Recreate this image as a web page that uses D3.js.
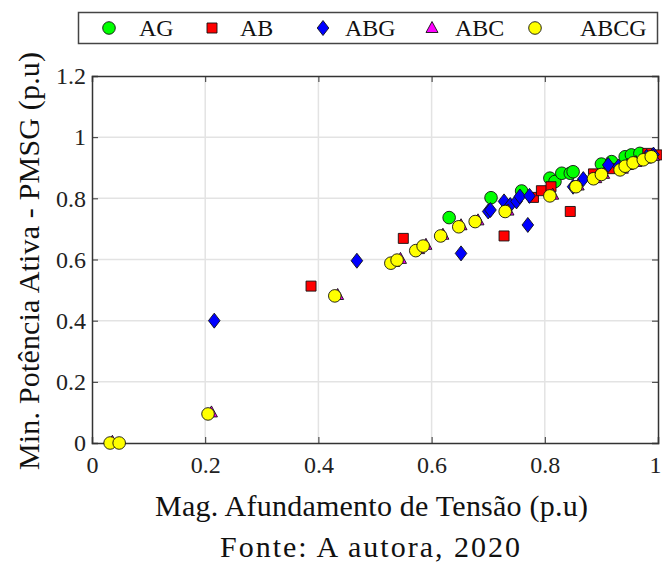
<!DOCTYPE html>
<html>
<head>
	<meta charset="utf-8">
	<title>Min. Potencia Ativa - PMSG</title>
	<script src="https://d3js.org/d3.v7.min.js"></script>
	<style>
		body { margin: 0; background: #fff; }
		svg text { font-family: "Liberation Serif", "DejaVu Serif", "Times New Roman", serif !important; fill: #111; }
	</style>
</head>
<body>
<div id="chart"></div>
<script type="text/javascript">

	// data: [mag. afundamento, min. potencia]
	var seriesNames = ["AG", "AB", "ABG", "ABC", "ABCG"];

	var agPoints = [
		[0.631, 0.737], [0.705, 0.802], [0.759, 0.824], [0.809, 0.866], [0.818, 0.855],
		[0.830, 0.882], [0.845, 0.882], [0.850, 0.887], [0.900, 0.912], [0.918, 0.920],
		[0.942, 0.936], [0.953, 0.942], [0.968, 0.947]
	];
	var abPoints = [
		[0.387, 0.513], [0.550, 0.669], [0.728, 0.677], [0.780, 0.803], [0.794, 0.825],
		[0.811, 0.838], [0.845, 0.757], [0.886, 0.880], [0.915, 0.897], [0.982, 0.947],
		[0.998, 0.942]
	];
	var abgPoints = [
		[0.216, 0.400], [0.468, 0.596], [0.652, 0.620], [0.700, 0.757], [0.704, 0.762],
		[0.728, 0.790], [0.739, 0.778], [0.750, 0.790], [0.756, 0.806], [0.773, 0.808],
		[0.770, 0.713], [0.850, 0.838], [0.868, 0.863], [0.912, 0.909], [0.930, 0.904],
		[0.980, 0.936], [0.992, 0.943]
	];
	var abcPoints = [
		[0.036, 0.004], [0.211, 0.100], [0.434, 0.484], [0.533, 0.592], [0.545, 0.602],
		[0.577, 0.634], [0.590, 0.648], [0.620, 0.681], [0.652, 0.712], [0.682, 0.728],
		[0.735, 0.760], [0.814, 0.812], [0.859, 0.842], [0.890, 0.866], [0.904, 0.880],
		[0.937, 0.897], [0.946, 0.909], [0.961, 0.919], [0.978, 0.930], [0.992, 0.939]
	];
	var abcgPoints = [
		[0.032, 0.000], [0.048, 0.000], [0.205, 0.095], [0.429, 0.481], [0.528, 0.588],
		[0.539, 0.598], [0.572, 0.629], [0.585, 0.644], [0.616, 0.677], [0.648, 0.707],
		[0.677, 0.724], [0.730, 0.757], [0.809, 0.808], [0.855, 0.838], [0.886, 0.864],
		[0.900, 0.878], [0.933, 0.893], [0.942, 0.905], [0.956, 0.916], [0.974, 0.926],
		[0.988, 0.936]
	];

	var xTicks = [0, 0.2, 0.4, 0.6, 0.8, 1];
	var yTicks = [0, 0.2, 0.4, 0.6, 0.8, 1, 1.2];

	var colors = {AG: "#00ff00", AB: "#ff0000", ABG: "#0000ff", ABC: "#ff00ff", ABCG: "#ffff00"};
	var shapes = {AG: "circle", AB: "square", ABG: "diamond", ABC: "triangle", ABCG: "circle"};
	var dataBySeries = {AG: agPoints, AB: abPoints, ABG: abgPoints, ABC: abcPoints, ABCG: abcgPoints};

	var width = 662, height = 563;
	var plot = {left: 92, right: 658, top: 76, bottom: 443};

	var svg = d3.select("#chart").append("svg")
		.attr("width", width)
		.attr("height", height);

	var x = d3.scaleLinear().domain([0, 1]).range([plot.left, plot.right]);
	var y = d3.scaleLinear().domain([0, 1.2]).range([plot.bottom, plot.top]);

	// grid
	var grid = svg.append("g");
	grid.selectAll("line.gx")
		.data(xTicks.slice(1, -1))
		.enter().append("line")
		.attr("x1", function(d){ return x(d); })
		.attr("x2", function(d){ return x(d); })
		.attr("y1", plot.top).attr("y2", plot.bottom)
		.style("stroke", "#e3e3e3").style("stroke-width", 1.5);
	grid.selectAll("line.gy")
		.data(yTicks.slice(1, -1))
		.enter().append("line")
		.attr("y1", function(d){ return y(d); })
		.attr("y2", function(d){ return y(d); })
		.attr("x1", plot.left).attr("x2", plot.right)
		.style("stroke", "#e3e3e3").style("stroke-width", 1.5);

	// axes with inward ticks, MATLAB box
	var axColor = "#333";
	var fmt = function(d){ return d3.format("~g")(d); };
	var xAxis = d3.axisBottom(x).tickValues(xTicks).tickSize(-6).tickPadding(13).tickFormat(fmt);
	var yAxis = d3.axisLeft(y).tickValues(yTicks).tickSize(-6).tickPadding(6).tickFormat(fmt);

	var gx = svg.append("g").attr("transform", "translate(0," + plot.bottom + ")").call(xAxis);
	var gy = svg.append("g").attr("transform", "translate(" + plot.left + ",0)").call(yAxis);
	svg.append("g").attr("transform", "translate(0," + plot.top + ")")
		.call(d3.axisTop(x).tickValues(xTicks).tickSize(-6).tickFormat(""));
	svg.append("g").attr("transform", "translate(" + plot.right + ",0)")
		.call(d3.axisRight(y).tickValues(yTicks).tickSize(-6).tickFormat(""));

	svg.selectAll(".domain").style("stroke", axColor).style("stroke-width", 1.5);
	svg.selectAll(".tick line").style("stroke", axColor).style("stroke-width", 1);
	svg.selectAll(".tick text")
		.style("font-size", "24px")
		.style("fill", "#222");
	// last x label would run off the page
	gx.selectAll(".tick text").filter(function(d){ return d == 1; }).attr("dx", "-3");

	// marker paths
	function markerPath(shape) {
		if (shape == "circle") return d3.symbol().type(d3.symbolCircle).size(Math.PI * 6.3 * 6.3)();
		if (shape == "square") return "M-5,-5L5,-5L5,5L-5,5Z";
		if (shape == "diamond") return "M0,-7.5L5.8,0L0,7.5L-5.8,0Z";
		if (shape == "triangle") return "M0,-6.5L6,4.5L-6,4.5Z";
	}

	var pts = svg.append("g");
	seriesNames.forEach(function(name) {
		pts.append("g").selectAll("path")
			.data(dataBySeries[name])
			.enter().append("path")
			.attr("d", markerPath(shapes[name]))
			.attr("transform", function(d){ return "translate(" + x(d[0]) + "," + y(d[1]) + ")"; })
			.style("fill", colors[name])
			.style("stroke", "#111")
			.style("stroke-width", 0.9);
	});

	// legend
	var legend = svg.append("g");
	legend.append("rect")
		.attr("x", 78.5).attr("y", 12.5).attr("width", 579).attr("height", 31)
		.style("fill", "#fff").style("stroke", "#444").style("stroke-width", 1.5);
	var legendMarkX = [109, 212, 323, 432, 535];
	var legendTextX = [139, 240, 345, 455, 580];
	seriesNames.forEach(function(name, i) {
		legend.append("path")
			.attr("d", markerPath(shapes[name]))
			.attr("transform", "translate(" + legendMarkX[i] + ",28)")
			.style("fill", colors[name]).style("stroke", "#111").style("stroke-width", 0.9);
		legend.append("text")
			.attr("x", legendTextX[i]).attr("y", 36)
			.style("font-size", "24px")
			.text(name);
	});

	// axis titles
	svg.append("text")
		.attr("x", 155).attr("y", 516)
		.attr("textLength", 433).attr("lengthAdjust", "spacing")
		.style("font-size", "30px")
		.text("Mag. Afundamento de Tensão (p.u)");

	svg.append("text")
		.attr("transform", "translate(39,470) rotate(-90)")
		.attr("textLength", 418).attr("lengthAdjust", "spacing")
		.style("font-size", "30px")
		.text("Min. Potência Ativa - PMSG (p.u)");

	svg.append("text")
		.attr("x", 220).attr("y", 557)
		.attr("textLength", 300).attr("lengthAdjust", "spacing")
		.style("font-size", "30px")
		.text("Fonte: A autora, 2020");

</script>
</body>
</html>
